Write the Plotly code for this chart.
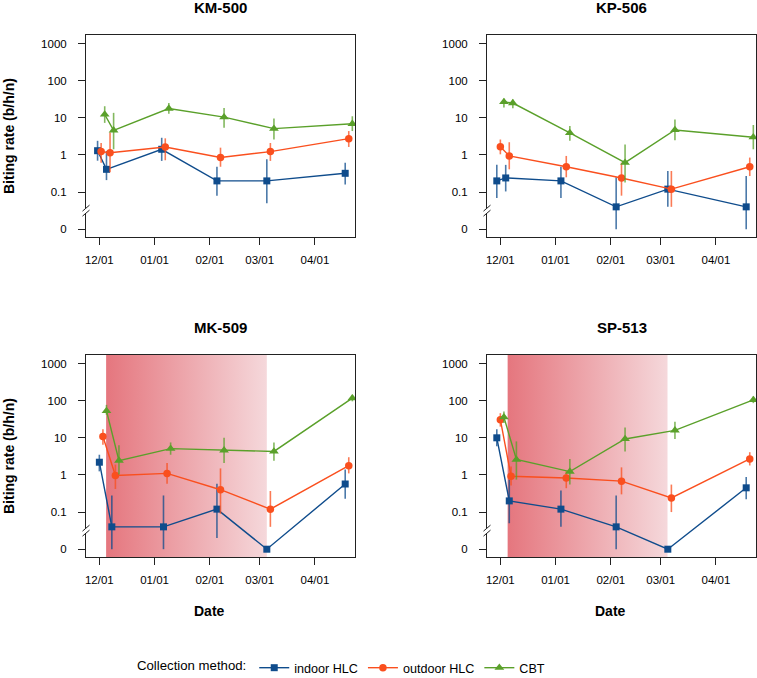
import plotly.graph_objects as go

# ---------------- data ----------------
sites = ["KM-500", "KP-506", "MK-509", "SP-513"]
series_names = ["indoor HLC", "outdoor HLC", "CBT"]

tick_dates = ["2018-12-01", "2019-01-01", "2019-02-01", "2019-03-01", "2019-04-01"]
tick_labels = ["12/01", "01/01", "02/01", "03/01", "04/01"]
y_tick_values = [0, 0.1, 1, 10, 100, 1000]
y_tick_labels = ["0", "0.1", "1", "10", "100", "1000"]

# KM-500
km500_indoor_dates = ["2018-11-30", "2018-12-05", "2019-01-05", "2019-02-05", "2019-03-05", "2019-04-18"]
km500_indoor_val = [1.3, 0.41, 1.42, 0.2, 0.2, 0.32]
km500_indoor_lo = [0.7, 0.21, 0.69, 0.08, 0.05, 0.16]
km500_indoor_hi = [2.4, 1.28, 2.9, 0.48, 0.76, 0.62]
km500_outdoor_dates = ["2018-12-02", "2018-12-07", "2019-01-07", "2019-02-07", "2019-03-07", "2019-04-20"]
km500_outdoor_val = [1.23, 1.15, 1.64, 0.85, 1.23, 2.74]
km500_outdoor_lo = [0.62, 0.34, 0.72, 0.48, 0.69, 1.64]
km500_outdoor_hi = [2.1, 4.0, 2.8, 1.57, 2.1, 4.4]
km500_cbt_dates = ["2018-12-04", "2018-12-09", "2019-01-09", "2019-02-09", "2019-03-09", "2019-04-22"]
km500_cbt_val = [12.3, 4.6, 17.8, 10.4, 5.1, 6.9]
km500_cbt_lo = [7.3, 1.42, 12.8, 5.4, 2.6, 4.4]
km500_cbt_hi = [20.5, 13.6, 25, 18.5, 9.6, 11]

# KP-506
kp506_indoor_dates = ["2018-11-29", "2018-12-04", "2019-01-04", "2019-02-04", "2019-03-05", "2019-04-18"]
kp506_indoor_val = [0.2, 0.24, 0.2, 0.04, 0.12, 0.04]
kp506_indoor_lo = [0.069, 0.104, 0.069, 0, 0.04, 0]
kp506_indoor_hi = [0.54, 0.54, 0.48, 0.25, 0.37, 0.27]
kp506_outdoor_dates = ["2018-12-01", "2018-12-06", "2019-01-07", "2019-02-07", "2019-03-07", "2019-04-20"]
kp506_outdoor_val = [1.67, 0.94, 0.48, 0.24, 0.12, 0.48]
kp506_outdoor_lo = [1.04, 0.41, 0.25, 0.08, 0.04, 0.27]
kp506_outdoor_hi = [2.6, 2.2, 0.94, 0.62, 0.37, 0.85]
kp506_cbt_dates = ["2018-12-03", "2018-12-08", "2019-01-09", "2019-02-09", "2019-03-09", "2019-04-22"]
kp506_cbt_val = [26.8, 25, 3.9, 0.62, 4.7, 3.0]
kp506_cbt_lo = [19, 18, 2.4, 0.18, 2.5, 1.42]
kp506_cbt_hi = [33, 31, 6, 1.9, 9, 6.4]

# MK-509
mk509_indoor_dates = ["2018-12-01", "2018-12-08", "2019-01-06", "2019-02-05", "2019-03-05", "2019-04-18"]
mk509_indoor_val = [2.2, 0.04, 0.04, 0.12, 0, 0.57]
mk509_indoor_lo = [1.25, 0, 0, 0.02, 0, 0.23]
mk509_indoor_hi = [3.5, 0.28, 0.28, 0.58, 0, 1.4]
mk509_outdoor_dates = ["2018-12-03", "2018-12-10", "2019-01-08", "2019-02-07", "2019-03-07", "2019-04-20"]
mk509_outdoor_val = [10.9, 0.97, 1.1, 0.40, 0.12, 1.78]
mk509_outdoor_lo = [6.5, 0.42, 0.58, 0.09, 0.04, 1.1]
mk509_outdoor_hi = [17, 1.9, 2.1, 1.5, 0.37, 3.0]
mk509_cbt_dates = ["2018-12-05", "2018-12-12", "2019-01-10", "2019-02-09", "2019-03-09", "2019-04-22"]
mk509_cbt_val = [53, 2.43, 5.1, 4.6, 4.3, 117]
mk509_cbt_lo = [42, 1.02, 3.5, 2.1, 2.4, 96]
mk509_cbt_hi = [77, 6.3, 7.5, 10, 7.5, 144]

# SP-513
sp513_indoor_dates = ["2018-11-29", "2018-12-06", "2019-01-04", "2019-02-04", "2019-03-05", "2019-04-18"]
sp513_indoor_val = [10, 0.2, 0.12, 0.04, 0, 0.45]
sp513_indoor_lo = [5.9, 0.05, 0.04, 0, 0, 0.22]
sp513_indoor_hi = [17, 0.75, 0.38, 0.28, 0, 0.88]
sp513_outdoor_dates = ["2018-12-01", "2018-12-07", "2019-01-07", "2019-02-07", "2019-03-07", "2019-04-20"]
sp513_outdoor_val = [30.7, 0.92, 0.83, 0.68, 0.24, 2.7]
sp513_outdoor_lo = [20, 0.52, 0.44, 0.3, 0.1, 1.8]
sp513_outdoor_hi = [46, 1.7, 1.25, 1.6, 0.55, 4.1]
sp513_cbt_dates = ["2018-12-03", "2018-12-10", "2019-01-09", "2019-02-09", "2019-03-09", "2019-04-22"]
sp513_cbt_val = [36, 2.6, 1.23, 9.3, 15.9, 105]
sp513_cbt_lo = [25, 0.75, 0.55, 4.3, 9.3, 86]
sp513_cbt_hi = [51, 8, 2.7, 19, 27, 130]

# intervention (shaded) periods
shade_sites = ["MK-509", "SP-513"]
shade_start = ["2018-12-04 19:00", "2018-12-05 02:00"]
shade_end = ["2019-03-05 00:00", "2019-03-04 20:00"]

# ---------------- style ----------------
FONT = "Liberation Sans, Arial, Helvetica, sans-serif"
colors = ["#0F4C8C", "#FA4F1E", "#5AA02A"]
err_colors = ["rgba(15,76,140,0.75)", "rgba(250,79,30,0.75)", "rgba(90,160,42,0.75)"]
symbols = ["square", "circle", "triangle-up"]
msizes = [7, 7.5, 8.5]
ZERO_POS = 0.01  # position where "0" is drawn on the broken log axis

W, H = 757, 678
panel_px = {  # left, right, top, bottom in pixels
    "KM-500": (86, 355, 35, 237),
    "KP-506": (487, 756, 35, 237),
    "MK-509": (86, 355, 355, 557),
    "SP-513": (487, 756, 355, 557),
}
x_range = ["2018-11-23 12:00", "2019-04-23 12:00"]
y_range = [-2.21, 3.23]

site_data = {
    "KM-500": [(km500_indoor_dates, km500_indoor_val, km500_indoor_lo, km500_indoor_hi),
               (km500_outdoor_dates, km500_outdoor_val, km500_outdoor_lo, km500_outdoor_hi),
               (km500_cbt_dates, km500_cbt_val, km500_cbt_lo, km500_cbt_hi)],
    "KP-506": [(kp506_indoor_dates, kp506_indoor_val, kp506_indoor_lo, kp506_indoor_hi),
               (kp506_outdoor_dates, kp506_outdoor_val, kp506_outdoor_lo, kp506_outdoor_hi),
               (kp506_cbt_dates, kp506_cbt_val, kp506_cbt_lo, kp506_cbt_hi)],
    "MK-509": [(mk509_indoor_dates, mk509_indoor_val, mk509_indoor_lo, mk509_indoor_hi),
               (mk509_outdoor_dates, mk509_outdoor_val, mk509_outdoor_lo, mk509_outdoor_hi),
               (mk509_cbt_dates, mk509_cbt_val, mk509_cbt_lo, mk509_cbt_hi)],
    "SP-513": [(sp513_indoor_dates, sp513_indoor_val, sp513_indoor_lo, sp513_indoor_hi),
               (sp513_outdoor_dates, sp513_outdoor_val, sp513_outdoor_lo, sp513_outdoor_hi),
               (sp513_cbt_dates, sp513_cbt_val, sp513_cbt_lo, sp513_cbt_hi)],
}


def pos(v):
    return v if v > 0 else ZERO_POS


fig = go.Figure()
layout = dict(
    width=W, height=H,
    margin=dict(l=0, r=0, t=0, b=0, autoexpand=False),
    paper_bgcolor="white", plot_bgcolor="white",
    font=dict(family=FONT, size=12, color="black"),
    showlegend=True,
)
annotations = []
shapes = []

for i, site in enumerate(sites):
    n = "" if i == 0 else str(i + 1)
    xa, ya = "x" + n, "y" + n
    l, r, t, b = panel_px[site]
    layout["xaxis" + n] = dict(
        type="date", domain=[l / W, r / W], range=x_range, anchor=ya,
        tickvals=tick_dates, ticktext=tick_labels, ticks="outside", ticklen=7,
        tickwidth=1, tickcolor="#222", showline=True, mirror=True, linecolor="#222",
        linewidth=1, showgrid=False, zeroline=False, ticklabelstandoff=5,
        automargin=False,
        tickfont=dict(size=11.5, family=FONT, color="black"),
    )
    layout["yaxis" + n] = dict(
        type="log", domain=[1 - b / H, 1 - t / H], range=y_range, anchor=xa,
        tickvals=[pos(v) for v in y_tick_values], ticktext=y_tick_labels,
        ticks="outside", ticklen=7, tickwidth=1, tickcolor="#222",
        showline=True, mirror=True, linecolor="#222", linewidth=1,
        showgrid=False, zeroline=False, ticklabelstandoff=9, automargin=False,
        tickfont=dict(size=11.5, family=FONT, color="black"),
    )

    # gradient shaded period
    if site in shade_sites:
        k = shade_sites.index(site)
        x0, x1 = shade_start[k], shade_end[k]
        fig.add_trace(go.Scatter(
            x=[x0, x1, x1, x0, x0], y=[1e-4, 1e-4, 1e5, 1e5, 1e-4],
            mode="lines", line=dict(width=0), fill="toself",
            fillgradient=dict(type="horizontal",
                              colorscale=[[0, "#E5767E"], [1, "#F5D8DB"]]),
            hoverinfo="skip", showlegend=False, xaxis=xa, yaxis=ya,
        ))

    for s in range(3):
        d, v, lo, hi = site_data[site][s]
        yv = [pos(a) for a in v]
        up = [pos(h) - p for h, p in zip(hi, yv)]
        dn = [p - pos(q) for q, p in zip(lo, yv)]
        fig.add_trace(go.Scatter(
            x=d, y=yv, mode="lines+markers", name=series_names[s],
            line=dict(color=colors[s], width=1.4),
            marker=dict(symbol=symbols[s], size=msizes[s], color=colors[s]),
            error_y=dict(type="data", symmetric=False, array=up, arrayminus=dn,
                         color=err_colors[s], thickness=1.6, width=0),
            showlegend=(i == 0), legendgroup=series_names[s],
            xaxis=xa, yaxis=ya,
        ))

    # panel title
    annotations.append(dict(
        text="<b>%s</b>" % site, x=(l + r) / 2 / W, y=1 - (t - 27) / H,
        xref="paper", yref="paper", showarrow=False, xanchor="center", yanchor="middle",
        font=dict(size=15, family=FONT, color="black"),
    ))
    # y axis title on left column
    if l < 200:
        annotations.append(dict(
            text="<b>Biting rate (b/h/n)</b>", x=9 / W, y=1 - (t + b) / 2 / H,
            xref="paper", yref="paper", showarrow=False, textangle=-90,
            xanchor="center", yanchor="middle", font=dict(size=14, family=FONT, color="black"),
        ))
    # x axis title on bottom row
    if t > 300:
        annotations.append(dict(
            text="<b>Date</b>", x=((l + r) / 2 - 11) / W, y=1 - 611 / H,
            xref="paper", yref="paper", showarrow=False,
            xanchor="center", yanchor="middle", font=dict(size=14, family=FONT, color="black"),
        ))

    # axis break marks on the y axis (between 0 and 0.1)
    brk = (-1.5 - y_range[0]) / (y_range[1] - y_range[0])
    xdom = xa + " domain"
    ydom = ya + " domain"
    shapes.append(dict(type="rect", xref=xdom, yref=ydom, xsizemode="pixel", ysizemode="pixel",
                       xanchor=0, yanchor=brk, x0=-3, x1=3, y0=-2.5, y1=2.5,
                       fillcolor="white", line=dict(width=0), layer="above"))
    for dy in (-2.5, 2.5):
        shapes.append(dict(type="line", xref=xdom, yref=ydom, xsizemode="pixel", ysizemode="pixel",
                           xanchor=0, yanchor=brk, x0=-3.5, x1=3.5, y0=dy - 3, y1=dy + 3,
                           line=dict(color="#222", width=1), layer="above"))

layout["annotations"] = annotations
layout["shapes"] = shapes
layout["legend"] = dict(
    orientation="h", x=135 / W, xanchor="left", y=1 - 668 / H, yanchor="middle",
    title=dict(text="Collection method:", side="left", font=dict(size=13.2, family=FONT)),
    font=dict(size=12.6, family=FONT, color="black"), bgcolor="rgba(0,0,0,0)",
    itemwidth=30, tracegroupgap=0,
)
fig.update_layout(**layout)
fig.write_html("out.html", config={"displayModeBar": False},
               post_script="document.body.style.margin='0';document.body.style.padding='0';")
